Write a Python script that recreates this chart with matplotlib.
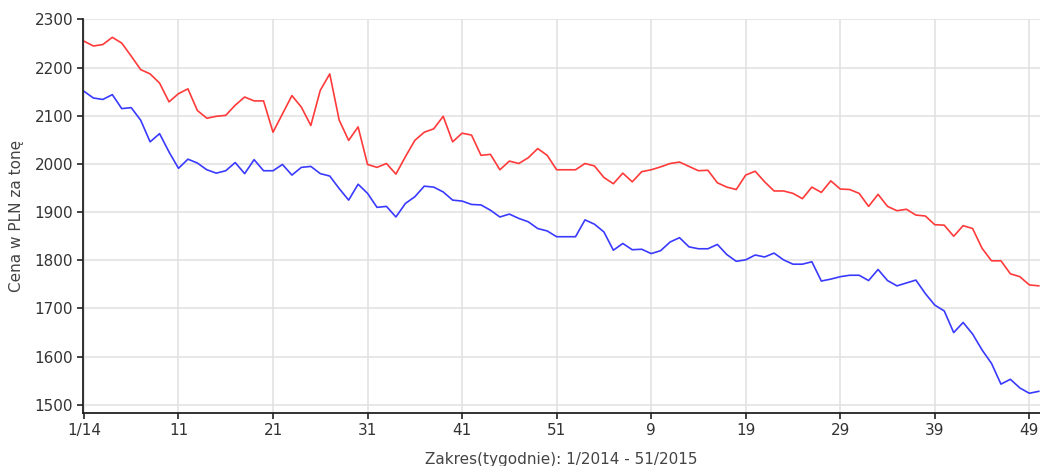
import matplotlib.pyplot as plt

# weekly prices, 1/2014 .. 50/2015
red = [2255, 2245, 2248, 2263, 2251, 2224, 2196, 2187, 2168, 2129,
       2146, 2156, 2111, 2095, 2099, 2101, 2122, 2139, 2131, 2131,
       2066, 2104, 2142, 2118, 2080, 2153, 2187, 2091, 2049, 2077,
       1999, 1993, 2001, 1979, 2015, 2049, 2066, 2073, 2099, 2046,
       2064, 2060, 2018, 2020, 1988, 2006, 2001, 2013, 2032, 2018,
       1988, 1988, 1988, 2001, 1996, 1972, 1959, 1981, 1963, 1984,
       1988, 1994, 2001, 2004, 1995, 1986, 1987, 1961, 1952, 1947,
       1977, 1985, 1963, 1944, 1944, 1939, 1928, 1952, 1941, 1965,
       1948, 1947, 1939, 1912, 1937, 1912, 1903, 1906, 1894, 1892,
       1874, 1873, 1850, 1872, 1866, 1825, 1799, 1799, 1772, 1766,
       1749, 1747]
blue = [2151, 2137, 2134, 2144, 2115, 2117, 2091, 2046, 2063, 2025,
        1991, 2010, 2002, 1988, 1981, 1986, 2003, 1980, 2009, 1986,
        1986, 1999, 1977, 1993, 1995, 1980, 1975, 1949, 1925, 1958,
        1939, 1910, 1912, 1890, 1918, 1932, 1954, 1952, 1942, 1925,
        1923, 1916, 1915, 1904, 1890, 1896, 1887, 1880, 1866, 1861,
        1849, 1849, 1849, 1884, 1875, 1859, 1821, 1835, 1822, 1823,
        1814, 1820, 1838, 1847, 1828, 1824, 1824, 1833, 1812, 1798,
        1801, 1811, 1807, 1815, 1801, 1792, 1792, 1797, 1757, 1761,
        1766, 1769, 1769, 1758, 1781, 1758, 1747, 1753, 1759, 1731,
        1707, 1695, 1650, 1671, 1647, 1614, 1586, 1543, 1553, 1535,
        1524, 1528]

tick_pos = [0, 10, 20, 30, 40, 50, 60, 70, 80, 90, 100]
tick_labels = ['1/14', '11', '21', '31', '41', '51', '9', '19', '29', '39', '49']
y_ticks = [1500, 1600, 1700, 1800, 1900, 2000, 2100, 2200, 2300]

fig = plt.figure(figsize=(10.4, 4.66), dpi=100)
ax = fig.add_axes([0.0798, 0.1137, 0.9202, 0.8455])

x = list(range(len(red)))
ax.plot(x, red, color='#ff3a3a', lw=1.2)
ax.plot(x, blue, color='#3a3aff', lw=1.2)

ax.set_xlim(-0.1, 101.13)
ax.set_ylim(1483, 2301)
ax.set_xticks(tick_pos)
ax.set_xticklabels(tick_labels)
ax.set_yticks(y_ticks)

ax.grid(True, color='#e0e0e0', lw=1.1)
ax.set_axisbelow(True)
for s in ['top', 'right']:
    ax.spines[s].set_visible(False)
for s in ['left', 'bottom']:
    ax.spines[s].set_color('#222222')
    ax.spines[s].set_linewidth(1.3)
ax.tick_params(direction='out', length=4, width=1.2, color='#222222',
               labelsize=11, labelcolor='#333333', pad=3)

ax.set_xlabel('Zakres(tygodnie): 1/2014 - 51/2015', fontsize=11, color='#444444', labelpad=10)
ax.set_ylabel('Cena w PLN za tonę', fontsize=11, color='#444444', labelpad=8)

fig.savefig('out.png', dpi=100)
